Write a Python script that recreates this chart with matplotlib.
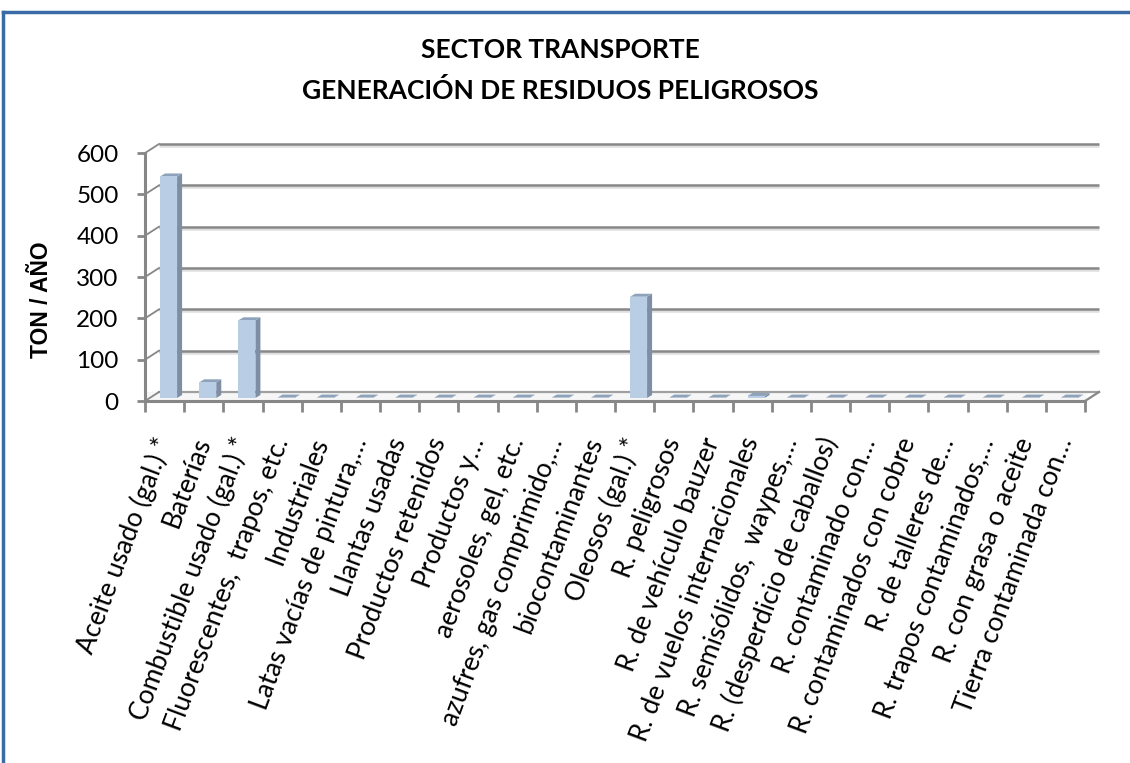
import matplotlib
matplotlib.use("Agg")
import matplotlib.pyplot as plt
from matplotlib.lines import Line2D
from matplotlib.patches import Polygon
import numpy as np

categories = [
    "Aceite usado (gal.) *", "Baterías", "Combustible usado (gal.) *",
    "Fluorescentes,  trapos, etc.", "Industriales", "Latas vacías de pintura,…",
    "Llantas usadas", "Productos retenidos", "Productos y…",
    "aerosoles, gel, etc.", "azufres, gas comprimido,…", "biocontaminantes",
    "Oleosos (gal.) *", "R. peligrosos", "R. de vehículo bauzer",
    "R. de vuelos internacionales", "R. semisólidos,  waypes,…",
    "R. (desperdicio de caballos)", "R. contaminado con…",
    "R. contaminados con cobre", "R. de talleres de…",
    "R. trapos contaminados,…", "R. con grasa o aceite",
    "Tierra contaminada con…",
]
values = [536, 38, 188, 1, 1, 1, 1, 1, 1, 1, 1, 1,
          245, 1, 1, 5, 1, 1, 1, 1, 1, 1, 1, 1]
yticks = [0, 100, 200, 300, 400, 500, 600]
title = "SECTOR TRANSPORTE\nGENERACIÓN DE RESIDUOS PELIGROSOS"
ylabel = "TON / AÑO"

W, H = 1130, 763
fig = plt.figure(figsize=(W / 100, H / 100), dpi=100)
fig.patch.set_facecolor("white")

x0_px, x1_px, y0_px, y1_px = 145, 1085, 401, 153
ax = fig.add_axes([x0_px / W, 1 - y0_px / H, (x1_px - x0_px) / W, (y0_px - y1_px) / H])
N = len(categories)
ax.set_xlim(0, N)
ax.set_ylim(0, 600)
ax.set_facecolor("none")
for s in ax.spines.values():
    s.set_visible(False)

pxx = N / (x1_px - x0_px)      # data per pixel (x)
pxy = 600 / (y0_px - y1_px)    # data per pixel (y)
bdx, bdy = 14 * pxx, 9 * pxy   # back wall offset

grid_c = "#878787"
for yv in yticks:
    if yv > 0:
        ax.plot([bdx, N + bdx], [yv + bdy - 2 * pxy] * 2, color="#dedede", lw=1.8,
                clip_on=False, zorder=1, solid_capstyle="butt")
        ax.plot([bdx, N + bdx], [yv + bdy, yv + bdy], color=grid_c, lw=1.8,
                clip_on=False, zorder=1.1, solid_capstyle="butt")
    ax.plot([0, bdx], [yv, yv + bdy], color=grid_c, lw=1.3, clip_on=False, zorder=1.2)

# floor
ax.fill_between([0, N], [0, 0], [bdy, bdy], color="#f6f6f6", zorder=0.5, clip_on=False)
ax.plot([bdx, N + bdx], [bdy, bdy], color="#a0a0a0", lw=1.6, clip_on=False, zorder=1)
ax.plot([N, N + bdx], [0, bdy], color=grid_c, lw=1.6, clip_on=False, zorder=3)
# front axes
ax.plot([0, N], [0, 0], color=grid_c, lw=2.2, clip_on=False, zorder=3)
ax.plot([0, 0], [0, 600], color=grid_c, lw=2.2, clip_on=False, zorder=3)

# bars (3D look)
xs = np.arange(N) + 0.5
bw = 17 * pxx
shift = 4 * pxx
base = 3 * pxy
sdx, sdy = 5 * pxx, 3 * pxy
for xc, v in zip(xs, values):
    l = xc + shift - bw / 2
    r = l + bw
    top = base + v
    side = Polygon([(r, base), (r + sdx, base + sdy), (r + sdx, top + sdy), (r, top)],
                   closed=True, facecolor="#7d8ea5", edgecolor="none", zorder=4, clip_on=False)
    topf = Polygon([(l, top), (l + sdx, top + sdy), (r + sdx, top + sdy), (r, top)],
                   closed=True, facecolor="#8fa2bb", edgecolor="none", zorder=4, clip_on=False)
    ax.add_patch(side)
    ax.add_patch(topf)
ax.bar(xs + shift, values, width=bw, bottom=base, color="#b9cde5", edgecolor="none",
       zorder=4, clip_on=False)

# ticks
ax.set_yticks(yticks)
ax.set_yticklabels([str(t) for t in yticks], fontsize=17.5, family="Lato", color="black")
ax.tick_params(axis="y", length=6, width=2, color=grid_c, pad=13)
ax.set_xticks(np.arange(N + 1))
ax.set_xticklabels([])
ax.tick_params(axis="x", which="major", length=8, width=2, color=grid_c)
ax.set_xticks(xs, minor=True)
ax.set_xticklabels(categories, minor=True, rotation=69.5, ha="right", va="center",
                   rotation_mode="anchor", fontsize=19, family="Lato")
ax.tick_params(axis="x", which="minor", length=0, pad=27)

fig.text(42 / W, 1 - 300 / H, ylabel, rotation=90, ha="center", va="center",
         fontsize=16.5, fontweight="bold", family="Liberation Sans")

fig.text(560 / W, 1 - 70.5 / H, title, ha="center", va="center", fontsize=19,
         fontweight="bold", family="Lato", linespacing=1.75)

# chart border
bc = "#3b6ba5"
fig.add_artist(Line2D([3 / W, 1], [1 - 12 / H, 1 - 12 / H], transform=fig.transFigure,
                      color=bc, lw=2.5))
fig.add_artist(Line2D([3 / W, 3 / W], [0, 1 - 12 / H], transform=fig.transFigure,
                      color=bc, lw=2.5))

fig.savefig("out.png", dpi=100)
